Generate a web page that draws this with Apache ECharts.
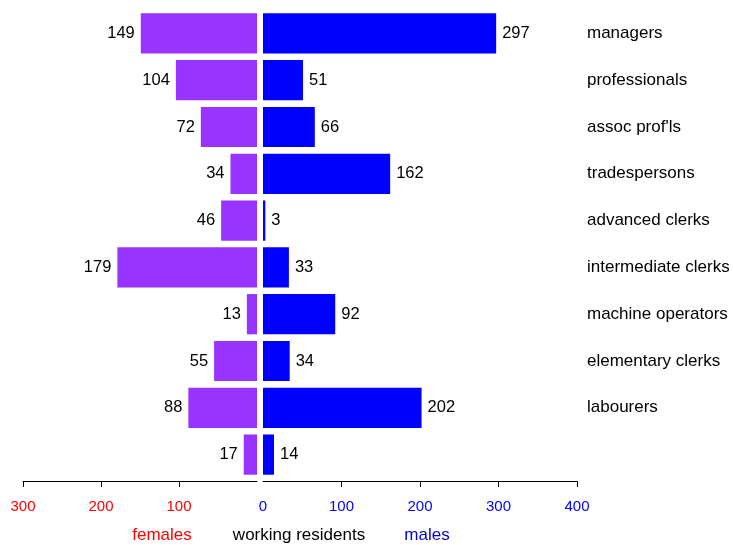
<!DOCTYPE html>
<html>
<head>
<meta charset="utf-8">
<script src="https://cdn.jsdelivr.net/npm/echarts@6/dist/echarts.min.js"></script>
<style>html,body{margin:0;padding:0;background:#fff;}#c{width:733px;height:545px;}</style>
</head>
<body>
<div id="c"></div>
<script>
const categories = ['managers','professionals',"assoc prof'ls",'tradespersons','advanced clerks','intermediate clerks','machine operators','elementary clerks','labourers',''];
const females = [149,104,72,34,46,179,13,55,88,17];
const males = [297,51,66,162,3,33,92,34,202,14];
const femaleTicks = [100,200,300];
const maleTicks = [0,100,200,300,400];

const FONT = '"Liberation Sans", Arial, sans-serif';
const chart = echarts.init(document.getElementById('c'));
chart.setOption({
  animation: false,
  backgroundColor: '#fff',
  grid: [
    {left: 23, width: 234, top: 10, height: 468},
    {left: 263, width: 314, top: 10, height: 468}
  ],
  xAxis: [
    {gridIndex: 0, type: 'value', min: 0, max: 300, inverse: true, offset: 3,
     splitLine: {show: false},
     axisLine: {show: true, lineStyle: {color: '#000', width: 1}},
     axisTick: {show: true, length: 6, customValues: femaleTicks, lineStyle: {color: '#000'}},
     axisLabel: {customValues: femaleTicks, color: '#FF0000', fontSize: 15, fontFamily: FONT, margin: 18}},
    {gridIndex: 1, type: 'value', min: 0, max: 400, offset: 3,
     splitLine: {show: false},
     axisLine: {show: true, lineStyle: {color: '#000', width: 1}},
     axisTick: {show: true, length: 6, customValues: [100,200,300,400], lineStyle: {color: '#000'}},
     axisLabel: {customValues: maleTicks, color: '#0000FF', fontSize: 15, fontFamily: FONT, margin: 18}}
  ],
  yAxis: [
    {gridIndex: 0, type: 'category', data: categories, inverse: true,
     axisLine: {show: false}, axisTick: {show: false}, axisLabel: {show: false}},
    {gridIndex: 1, type: 'category', data: categories, inverse: true, position: 'right',
     axisLine: {show: false}, axisTick: {show: false},
     axisLabel: {show: true, color: '#000', fontSize: 17, fontFamily: FONT, margin: 10, align: 'left'}}
  ],
  series: [
    {type: 'bar', xAxisIndex: 0, yAxisIndex: 0, data: females, barCategoryGap: '14%',
     itemStyle: {color: '#9933FF'},
     label: {show: true, position: 'left', distance: 6, color: '#000', fontSize: 16.5, fontFamily: FONT}},
    {type: 'bar', xAxisIndex: 1, yAxisIndex: 1, data: males, barCategoryGap: '14%',
     itemStyle: {color: '#0000FF'},
     label: {show: true, position: 'right', distance: 6, color: '#000', fontSize: 16.5, fontFamily: FONT}}
  ],
  graphic: [
    {type: 'text', style: {text: 'females', fill: '#FF0000', font: '17px ' + FONT, x: 162, y: 535, align: 'center', verticalAlign: 'middle'}},
    {type: 'text', style: {text: 'working residents', fill: '#000', font: '17px ' + FONT, x: 299, y: 535, align: 'center', verticalAlign: 'middle'}},
    {type: 'text', style: {text: 'males', fill: '#0000CC', font: '17px ' + FONT, x: 427, y: 535, align: 'center', verticalAlign: 'middle'}}
  ]
});
</script>
</body>
</html>
